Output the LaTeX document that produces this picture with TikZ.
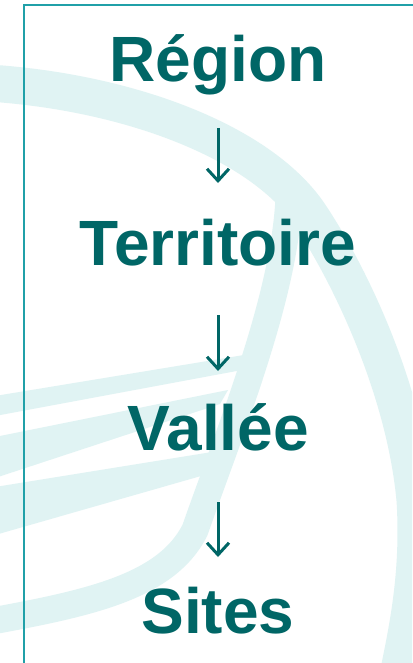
\documentclass[tikz,border=0pt]{standalone}
\usepackage{fontspec}
\setmainfont{Liberation Sans}
\usetikzlibrary{arrows.meta}
\definecolor{txt}{RGB}{0,102,102}
\definecolor{rulec}{RGB}{32,160,168}
\definecolor{bandc}{RGB}{224,243,243}
\begin{document}
\begin{tikzpicture}[x=1pt,y=-1pt,
  lbl/.style={font=\fontsize{64}{64}\selectfont\bfseries, text=txt, inner sep=0pt, anchor=base},
  arr/.style={draw=txt, line width=3pt, -{Straight Barb[length=12pt,width=22pt]}},
  band/.style={draw=bandc, line cap=butt}]
\fill[white] (0,0) rectangle (412,663);
\useasboundingbox (0,0) rectangle (412,663);
\begin{scope}
\clip (0,0) rectangle (412,663);
% big arc
\draw[band, line width=37pt] (-30,82) .. controls (120,88) and (260,140) .. (310,215)
  .. controls (350,275) and (405,390) .. (415,500) .. controls (420,580) and (405,640) .. (395,690);
% branch going down-left
\draw[band, line width=27pt] (289,198) .. controls (284,300) and (230,430) .. (195,530)
  .. controls (165,590) and (80,605) .. (-30,625);
% rays to the left
\fill[bandc] (-5,396) -- (250,354) -- (242,370) -- (-5,416) -- cycle;
\fill[bandc] (-5,437) -- (228,390) -- (220,404) -- (-5,478) -- cycle;
\fill[bandc] (-5,487) -- (212,452) -- (208,474) -- (-5,535) -- cycle;
\end{scope}
\draw[rulec, line width=2pt] (23.5,670) -- (23.5,5.5) -- (420,5.5);
\node[lbl] (region) at (218,82) {Région};
\node[lbl] (terr) at (218,265) {Territoire};
\node[lbl] (vallee) at (218,450) {Vallée};
\node[lbl] (sites) at (218,633) {Sites};
\draw[arr] ([yshift=-46pt]region.base) -- ([yshift=82pt]terr.base);
\draw[arr] ([yshift=-50pt]terr.base) -- ([yshift=79pt]vallee.base);
\draw[arr] ([yshift=-52pt]vallee.base) -- ([yshift=76pt]sites.base);
\end{tikzpicture}
\end{document}
